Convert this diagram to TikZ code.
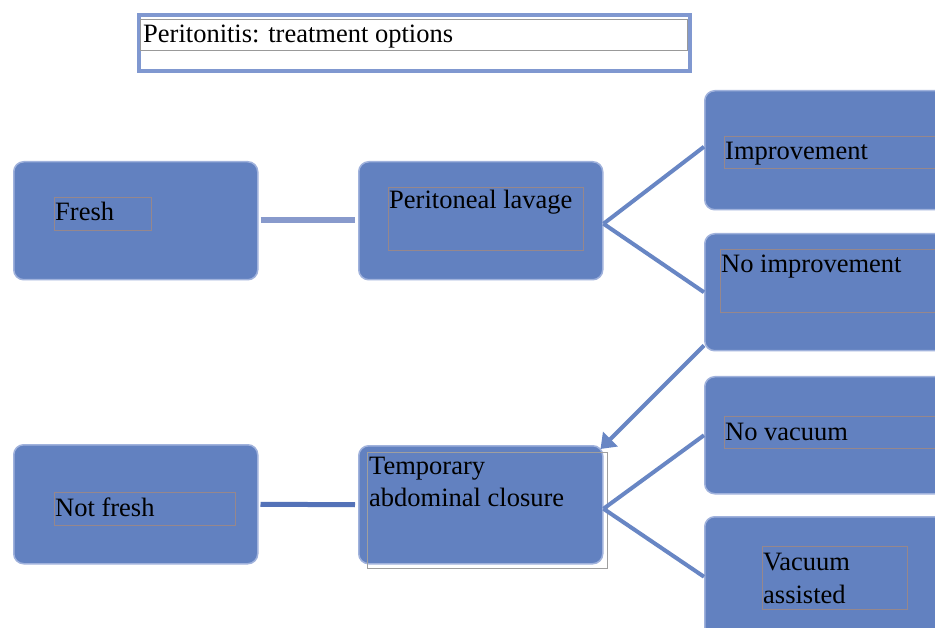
\documentclass[tikz,border=0pt]{standalone}
\usepackage{fontspec}
\setmainfont{Liberation Serif}
\usetikzlibrary{arrows.meta}
\definecolor{boxfill}{RGB}{98,129,192}
\definecolor{boxedge}{RGB}{160,178,220}
\definecolor{titleedge}{RGB}{128,152,208}
\definecolor{tboxedge}{RGB}{150,135,140}
\definecolor{linelight}{RGB}{136,154,204}
\definecolor{linedark}{RGB}{84,114,184}
\definecolor{linemid}{RGB}{104,134,196}
\begin{document}
\begin{tikzpicture}[x=1pt,y=-1pt,
  bluebox/.style={draw=boxedge,line width=1.5pt,fill=boxfill,rounded corners=10pt,anchor=north west,inner sep=0pt},
  tbox/.style={draw=tboxedge,line width=0.6pt,anchor=north west,inner sep=0pt},
  lbl/.style={anchor=base west,inner sep=0pt,font=\fontsize{26.5}{30}\selectfont,text=black},
  conn/.style={line width=4pt,draw=linemid},
]
\clip (0,0) rectangle (935,628);
\fill[white] (0,0) rectangle (935,628);
% title
\node[draw=titleedge,line width=4pt,fill=white,anchor=north west,minimum width=551pt,minimum height=56pt,inner sep=0pt] (title) at (137,13) {};
\node[draw=gray!80,line width=0.6pt,anchor=north west,minimum width=547pt,minimum height=31pt,inner sep=0pt] (titlein) at (140,19) {};
\node[lbl] (titletext) at (143,43) {Peritonitis: treatment options};
% boxes
\node[bluebox,minimum width=244pt,minimum height=118pt] (fresh) at (13,161) {};
\node[bluebox,minimum width=244pt,minimum height=118pt] (lavage) at (358,161) {};
\node[bluebox,minimum width=250pt,minimum height=119pt] (impr) at (704,90) {};
\node[bluebox,minimum width=250pt,minimum height=117pt] (noimpr) at (704,233) {};
\node[bluebox,minimum width=244pt,minimum height=119pt] (notfresh) at (13,444) {};
\node[bluebox,minimum width=244pt,minimum height=118pt] (tac) at (358,445) {};
\node[bluebox,minimum width=250pt,minimum height=117pt] (novac) at (704,376) {};
\node[bluebox,minimum width=250pt,minimum height=120pt] (vac) at (704,516) {};
% inner text boxes
\node[tbox,minimum width=97pt,minimum height=33pt] (freshin) at (54,197) {};
\node[tbox,minimum width=195pt,minimum height=63pt] (lavagein) at (388,187) {};
\node[tbox,minimum width=230pt,minimum height=32pt] (imprin) at (724,136) {};
\node[tbox,minimum width=230pt,minimum height=63pt] (noimprin) at (720,249) {};
\node[tbox,minimum width=181pt,minimum height=33pt] (notfreshin) at (54,492) {};
\node[draw=gray!75,line width=0.6pt,anchor=north west,inner sep=0pt,minimum width=240pt,minimum height=116pt] (tacin) at (367,452) {};
\node[tbox,minimum width=230pt,minimum height=32pt] (novacin) at (724,416) {};
\node[tbox,minimum width=145pt,minimum height=63pt] (vacin) at (762,546) {};
% texts
\node[lbl] (freshtext) at (55,221) {Fresh};
\node[lbl] (lavagetext) at (389,209) {Peritoneal lavage};
\node[lbl] (imprtext) at (725,160) {Improvement};
\node[lbl] (noimprtext) at (721,273) {No improvement};
\node[lbl] (notfreshtext) at (55,516) {Not fresh};
\node[lbl] (tactext1) at (369,475) {Temporary};
\node[lbl] (tactext2) at (369,506) {abdominal closure};
\node[lbl] (novactext) at (725,440) {No vacuum};
\node[lbl] (vactext1) at (763,570) {Vacuum};
\node[lbl] (vactext2) at (763,603) {assisted};
% connectors
\draw[line width=6pt,draw=linelight] ([xshift=2pt,yshift=1pt]fresh.east) -- ([xshift=-3pt,yshift=1pt]lavage.west);
\draw[line width=5pt,draw=linedark] ([xshift=2pt]notfresh.east) -- ([xshift=-3pt]tac.west);
\draw[conn] ([yshift=-3pt]lavage.east) -- ([yshift=3.5pt]impr.west);
\draw[conn] ([yshift=-3pt]lavage.east) -- (noimpr.west);
\draw[conn] ([yshift=-4pt]tac.east) -- (novac.west);
\draw[conn] ([yshift=-4pt]tac.east) -- ([yshift=0pt]vac.west);
\draw[conn,-{Triangle[length=14pt,width=20pt]}] ([yshift=6pt]noimpr.south west) -- ([xshift=-3pt,yshift=-4pt]tac.north east);
\end{tikzpicture}
\end{document}
